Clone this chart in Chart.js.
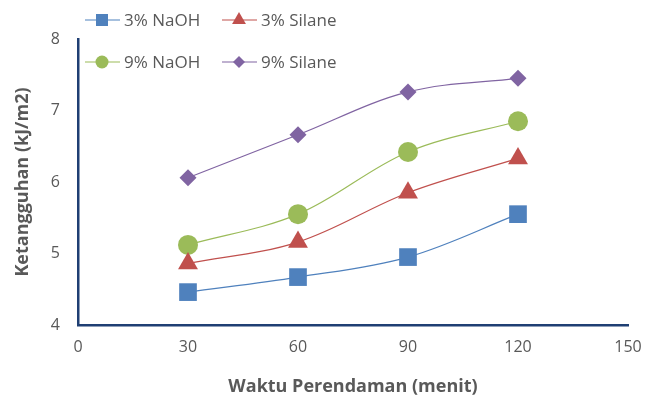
<!DOCTYPE html>
<html>
<head>
<meta charset="utf-8">
<script src="https://cdn.jsdelivr.net/npm/chart.js@4/dist/chart.umd.min.js"></script>
<style>
  html, body { margin: 0; padding: 0; background: #fff; }
</style>
</head>
<body>
<canvas id="chart" width="646" height="400"></canvas>
<script>
// -------- DATA -------- //
let waktu = [30, 60, 90, 120];
let naoh3 = [4.46, 4.67, 4.95, 5.55];
let silane3 = [4.86, 5.16, 5.85, 6.33];
let naoh9 = [5.12, 5.55, 6.42, 6.85];
let silane9 = [6.06, 6.66, 7.26, 7.45];
let seriesNames = ['3% NaOH', '3% Silane', '9% NaOH', '9% Silane'];

let xTicks = [0, 30, 60, 90, 120, 150];
let yTicks = [4, 5, 6, 7, 8];

let textColor = '#595959';
let axisColor = '#1f3f73';
let fontFam = '"Open Sans", "Liberation Sans", sans-serif';

function toPoints(values) {
    return waktu.map((x, i) => ({ x: x, y: values[i] }));
}

function makeSet(label, values, color, style, radius, legendRadius) {
    return {
        label: label,
        data: toPoints(values),
        borderColor: color,
        backgroundColor: color,
        pointBackgroundColor: color,
        pointBorderColor: color,
        pointBorderWidth: 0,
        borderWidth: 1.2,
        pointStyle: style,
        pointRadius: radius,
        pointHoverRadius: radius,
        tension: 0.35,
        legendRadius: legendRadius
    };
}

// -------- LEGENDE -------- //
const legendPlugin = {
    id: 'lineLegend',
    afterDraw(chart) {
        const ctx = chart.ctx;
        const slots = [
            { x: 85, y: 20 }, { x: 222, y: 20 },
            { x: 85, y: 62 }, { x: 222, y: 62 }
        ];
        chart.data.datasets.forEach((ds, i) => {
            const s = slots[i];
            ctx.save();
            ctx.strokeStyle = ds.borderColor;
            ctx.lineWidth = 1.2;
            ctx.beginPath();
            ctx.moveTo(s.x, s.y);
            ctx.lineTo(s.x + 35, s.y);
            ctx.stroke();
            ctx.fillStyle = ds.borderColor;
            Chart.helpers.drawPoint(ctx, {
                pointStyle: ds.pointStyle,
                radius: ds.legendRadius,
                borderWidth: 0,
                rotation: 0
            }, s.x + 17, s.y);
            ctx.fillStyle = textColor;
            ctx.font = '17px ' + fontFam;
            ctx.textBaseline = 'middle';
            ctx.fillText(ds.label, s.x + 39, s.y + 1);
            ctx.restore();
        });
    }
};

const ctx = document.getElementById('chart');

new Chart(ctx, {
    type: 'line',
    data: {
        datasets: [
            makeSet(seriesNames[0], naoh3, '#4f81bd', 'rect', 12.5, 8.5),
            makeSet(seriesNames[1], silane3, '#c0504d', 'triangle', 11.5, 8),
            makeSet(seriesNames[2], naoh9, '#9bbb59', 'circle', 10, 6.5),
            makeSet(seriesNames[3], silane9, '#8064a2', 'rectRot', 8.5, 6)
        ]
    },
    options: {
        responsive: false,
        animation: false,
        devicePixelRatio: 1,
        layout: { padding: { left: 0, top: 39, right: 18, bottom: 0 } },
        plugins: {
            legend: { display: false },
            tooltip: { enabled: false }
        },
        scales: {
            x: {
                type: 'linear',
                min: 0,
                max: 150,
                afterBuildTicks: axis => { axis.ticks = xTicks.map(v => ({ value: v })); },
                afterFit: axis => { axis.height = 75; axis.paddingRight = 0; axis.paddingLeft = 0; },
                grid: { display: false, drawTicks: false },
                border: { color: axisColor, width: 2.5 },
                ticks: { color: textColor, padding: 13, font: { family: fontFam, size: 16 } },
                title: {
                    display: true,
                    text: 'Waktu Perendaman (menit)',
                    color: textColor,
                    font: { family: fontFam, size: 18, weight: 'bold' },
                    padding: { top: 4, bottom: 2 }
                }
            },
            y: {
                min: 4,
                max: 8,
                afterBuildTicks: axis => { axis.ticks = yTicks.map(v => ({ value: v })); },
                afterFit: axis => { axis.width = 78; },
                grid: { display: false, drawTicks: false },
                border: { color: axisColor, width: 2.5 },
                ticks: { color: textColor, padding: 18, font: { family: fontFam, size: 16 } },
                title: {
                    display: true,
                    text: 'Ketangguhan (kJ/m2)',
                    color: textColor,
                    font: { family: fontFam, size: 18, weight: 'bold' },
                    padding: { top: 12, bottom: 0 }
                }
            }
        }
    },
    plugins: [legendPlugin]
});
</script>
</body>
</html>
